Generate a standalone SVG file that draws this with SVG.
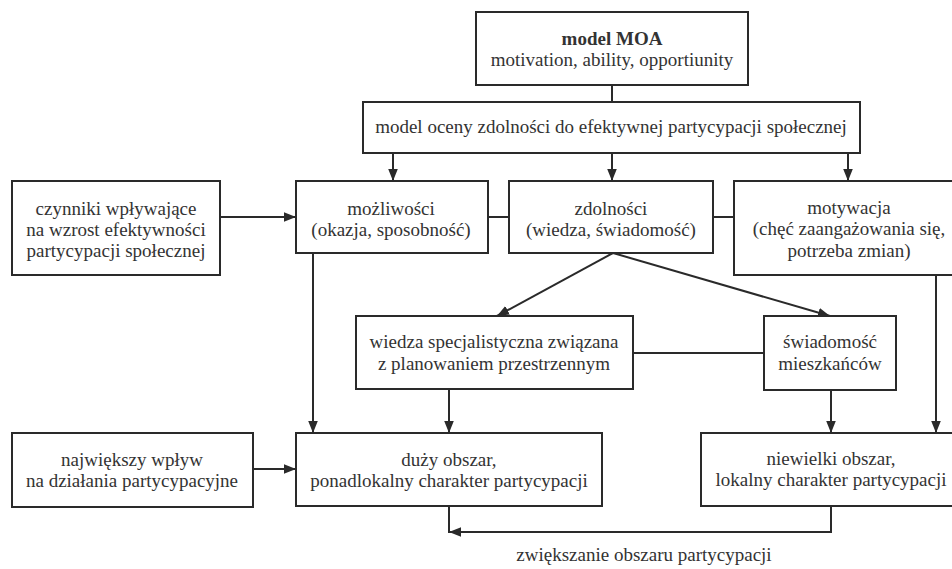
<svg xmlns="http://www.w3.org/2000/svg" width="952" height="569" viewBox="0 0 952 569">
  <style>
    .box { fill: #ffffff; stroke: #2a2a2a; stroke-width: 2; }
    .t { font-size: 19px; fill: #333333; text-anchor: middle; }
    .b { font-weight: bold; }
    .ln { fill: none; stroke: #2a2a2a; stroke-width: 2; }
    .arr { marker-end: url(#ah); }
  </style>
  <defs>
    <marker id="ah" viewBox="0 0 10 10" refX="10" refY="5" markerWidth="12" markerHeight="12" markerUnits="userSpaceOnUse" orient="auto">
      <path d="M0,1 L10,5 L0,9 Z" fill="#2a2a2a"/>
    </marker>
  </defs>
  <rect width="952" height="569" fill="#ffffff"/>

  <g id="connectors">
    <!-- MOA -> evaluation model -->
    <line class="ln" x1="612" y1="85" x2="612" y2="102"/>
    <!-- evaluation model -> three components -->
    <line class="ln arr" x1="393" y1="153" x2="393" y2="181"/>
    <line class="ln arr" x1="612" y1="153" x2="612" y2="181"/>
    <line class="ln arr" x1="848" y1="153" x2="848" y2="181"/>
    <!-- factors -> possibilities -->
    <line class="ln arr" x1="220" y1="217" x2="296" y2="217"/>
    <!-- links between component boxes -->
    <line class="ln" x1="488" y1="217" x2="509" y2="217"/>
    <line class="ln" x1="713" y1="217" x2="734" y2="217"/>
    <!-- abilities split into knowledge and awareness -->
    <line class="ln arr" x1="613" y1="253" x2="497" y2="316"/>
    <line class="ln arr" x1="613" y1="253" x2="830" y2="316"/>
    <!-- knowledge <-> awareness -->
    <line class="ln" x1="633" y1="353" x2="764" y2="353"/>
    <!-- possibilities -> large area -->
    <line class="ln arr" x1="313" y1="253" x2="313" y2="433"/>
    <!-- knowledge -> large area -->
    <line class="ln arr" x1="449" y1="389" x2="449" y2="433"/>
    <!-- awareness -> small area -->
    <line class="ln arr" x1="831" y1="390" x2="831" y2="433"/>
    <!-- motivation -> small area -->
    <line class="ln arr" x1="936" y1="275" x2="936" y2="433"/>
    <!-- largest influence -> large area -->
    <line class="ln arr" x1="253" y1="469" x2="296" y2="469"/>
    <!-- expanding area of participation -->
    <path class="ln arr" d="M831,506 V532 H449"/>
    <line class="ln" x1="449" y1="506" x2="449" y2="533"/>
  </g>

  <g font-family="Liberation Serif, Times New Roman, serif">
    <g id="moa">
      <rect class="box" x="476" y="12" width="272" height="73"/>
      <text class="t b" x="612" y="45">model MOA</text>
      <text class="t" x="612" y="66">motivation, ability, opportiunity</text>
    </g>

    <g id="ocena">
      <rect class="box" x="363" y="102" width="497" height="51"/>
      <text class="t" x="611" y="133">model oceny zdolności do efektywnej partycypacji społecznej</text>
    </g>

    <g id="czynniki">
      <rect class="box" x="12" y="181" width="208" height="94"/>
      <text class="t" x="116" y="215">czynniki wpływające</text>
      <text class="t" x="116" y="236">na wzrost efektywności</text>
      <text class="t" x="116" y="257">partycypacji społecznej</text>
    </g>

    <g id="mozliwosci">
      <rect class="box" x="296" y="181" width="192" height="72"/>
      <text class="t" x="391" y="215">możliwości</text>
      <text class="t" x="391" y="236">(okazja, sposobność)</text>
    </g>

    <g id="zdolnosci">
      <rect class="box" x="509" y="181" width="204" height="72"/>
      <text class="t" x="611" y="215">zdolności</text>
      <text class="t" x="611" y="236">(wiedza, świadomość)</text>
    </g>

    <g id="motywacja">
      <rect class="box" x="734" y="181" width="230" height="94"/>
      <text class="t" x="849" y="214">motywacja</text>
      <text class="t" x="849" y="235">(chęć zaangażowania się,</text>
      <text class="t" x="849" y="257">potrzeba zmian)</text>
    </g>

    <g id="wiedza">
      <rect class="box" x="356" y="316" width="277" height="73"/>
      <text class="t" x="494" y="348">wiedza specjalistyczna związana</text>
      <text class="t" x="494" y="370">z planowaniem przestrzennym</text>
    </g>

    <g id="swiadomosc">
      <rect class="box" x="764" y="316" width="132" height="74"/>
      <text class="t" x="830" y="348">świadomość</text>
      <text class="t" x="830" y="370">mieszkańców</text>
    </g>

    <g id="najwiekszy">
      <rect class="box" x="12" y="433" width="241" height="74"/>
      <text class="t" x="132" y="466">największy wpływ</text>
      <text class="t" x="132" y="487">na działania partycypacyjne</text>
    </g>

    <g id="duzy">
      <rect class="box" x="296" y="433" width="306" height="73"/>
      <text class="t" x="449" y="466">duży obszar,</text>
      <text class="t" x="449" y="487">ponadlokalny charakter partycypacji</text>
    </g>

    <g id="niewielki">
      <rect class="box" x="701" y="433" width="262" height="73"/>
      <text class="t" x="831" y="465">niewielki obszar,</text>
      <text class="t" x="831" y="486">lokalny charakter partycypacji</text>
    </g>

    <g id="podpis">
      <text class="t" x="644" y="561">zwiększanie obszaru partycypacji</text>
    </g>
  </g>
</svg>
